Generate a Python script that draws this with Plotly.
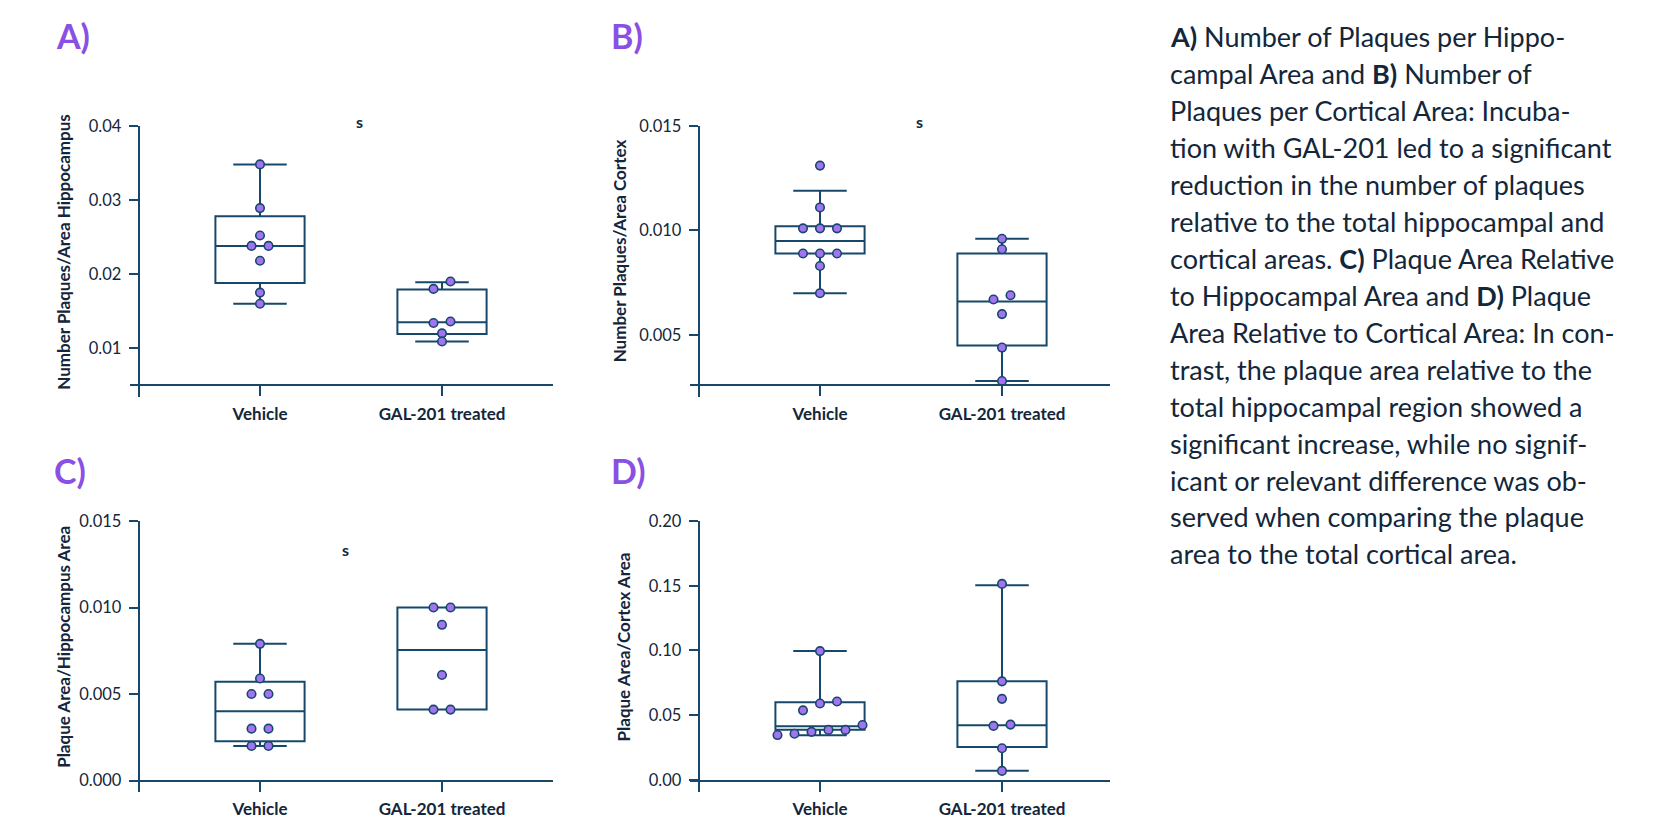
import numpy as np
import plotly.graph_objects as go

W, H = 1659, 824

NAVY = "#17486b"
PURPLE_PT = "#a274f2"
PURPLE_LETTER = "#8a50e4"
TEXT = "#13263a"
FONT = "Lato"

groups = ["Vehicle", "GAL-201 treated"]

# A) number of plaques per hippocampal area
a_vehicle = [0.0348, 0.0289, 0.0252, 0.0238, 0.0238, 0.0218, 0.0175, 0.0160]
a_gal = [0.0190, 0.0180, 0.0136, 0.0134, 0.0120, 0.0109]
a_low = [0.0160, 0.0109]
a_q1 = [0.0188, 0.0119]
a_med = [0.0238, 0.0135]
a_q3 = [0.0278, 0.0179]
a_high = [0.0348, 0.0189]
a_ticks = ["0.01", "0.02", "0.03", "0.04"]

# B) number of plaques per cortical area
b_vehicle = [0.0131, 0.0111, 0.0101, 0.0101, 0.0101, 0.0089, 0.0089, 0.0089, 0.0083, 0.0070]
b_gal = [0.0096, 0.0091, 0.0069, 0.0067, 0.0060, 0.0044, 0.0028]
b_low = [0.0070, 0.0028]
b_q1 = [0.0089, 0.0045]
b_med = [0.0095, 0.0066]
b_q3 = [0.0102, 0.0089]
b_high = [0.0119, 0.0096]
b_ticks = ["0.005", "0.010", "0.015"]

# C) plaque area relative to hippocampal area
c_vehicle = [0.0079, 0.0059, 0.0050, 0.0050, 0.0030, 0.0030, 0.0020, 0.0020]
c_gal = [0.0100, 0.0100, 0.0090, 0.0061, 0.0041, 0.0041]
c_low = [0.0020, 0.0041]
c_q1 = [0.00227, 0.0041]
c_med = [0.0040, 0.00755]
c_q3 = [0.00571, 0.0100]
c_high = [0.0079, 0.0100]
c_ticks = ["0.000", "0.005", "0.010", "0.015"]

# D) plaque area relative to cortical area
d_vehicle = [0.0995, 0.0605, 0.0590, 0.0537, 0.0424, 0.0386, 0.0386, 0.0371, 0.0356, 0.0346]
d_gal = [0.1514, 0.0761, 0.0626, 0.0427, 0.0417, 0.0244, 0.0069]
d_low = [0.0345, 0.0071]
d_q1 = [0.0388, 0.0254]
d_med = [0.0415, 0.0422]
d_q3 = [0.0600, 0.0761]
d_high = [0.0995, 0.1504]
d_ticks = ["0.00", "0.05", "0.10", "0.15", "0.20"]

caption = [
    "<b>A)</b> Number of Plaques per Hippo-",
    "campal Area and <b>B)</b> Number of",
    "Plaques per Cortical Area: Incuba-",
    "tion with GAL-201 led to a significant",
    "reduction in the number of plaques",
    "relative to the total hippocampal and",
    "cortical areas. <b>C)</b> Plaque Area Relative",
    "to Hippocampal Area and <b>D)</b> Plaque",
    "Area Relative to Cortical Area: In con-",
    "trast, the plaque area relative to the",
    "total hippocampal region showed a",
    "significant increase, while no signif-",
    "icant or relevant difference was ob-",
    "served when comparing the plaque",
    "area to the total cortical area.",
]

CAT_PX = 182.0  # pixel distance between the two group positions

# pixel layout of each panel: axis lines, two reference ticks, label spots
panels = [
    dict(letter="A)", vehicle=a_vehicle, gal=a_gal,
         stats=(a_low, a_q1, a_med, a_q3, a_high), ticks=a_ticks,
         title="Number Plaques/Area Hippocampus",
         x0=130, x1=553, cat0=260, yline=138.7,
         ref=((0.04, 117.3), (0.01, 342.3)), top=117.3, axis_y=380, bottom=392,
         title_xy=(62.7, 245), letter_xy=(73, 26), s_xy=(359, 113)),
    dict(letter="B)", vehicle=b_vehicle, gal=b_gal,
         stats=(b_low, b_q1, b_med, b_q3, b_high), ticks=b_ticks,
         title="Number Plaques/Area Cortex",
         x0=690, x1=1110, cat0=820, yline=698.7,
         ref=((0.015, 117.3), (0.005, 329.0)), top=117.3, axis_y=380, bottom=392,
         title_xy=(619.3, 244), letter_xy=(627, 26), s_xy=(919, 113)),
    dict(letter="C)", vehicle=c_vehicle, gal=c_gal,
         stats=(c_low, c_q1, c_med, c_q3, c_high), ticks=c_ticks,
         title="Plaque Area/Hippocampus Area",
         x0=130, x1=553, cat0=260, yline=138.7,
         ref=((0.015, 517.3), (0.0, 780.0)), top=517.3, axis_y=780, bottom=791.7,
         title_xy=(62.7, 645), letter_xy=(70, 466), s_xy=(345.7, 546)),
    dict(letter="D)", vehicle=d_vehicle, gal=d_gal,
         stats=(d_low, d_q1, d_med, d_q3, d_high), ticks=d_ticks,
         title="Plaque Area/Cortex Area",
         x0=690, x1=1110, cat0=820, yline=698.7,
         ref=((0.20, 517.3), (0.0, 779.3)), top=517.3, axis_y=780, bottom=791.7,
         title_xy=(623.3, 645), letter_xy=(628, 466), s_xy=None),
]


def swarm_offsets(values, ppu, thresh=8.0, gap=17.0):
    """Spread points whose values nearly coincide sideways, centred on the group."""
    vals = np.asarray(values, dtype=float)
    order = np.argsort(-vals, kind="stable")
    clusters, cur = [], [order[0]]
    for prev, idx in zip(order[:-1], order[1:]):
        if (vals[prev] - vals[idx]) * ppu < thresh:
            cur.append(idx)
        else:
            clusters.append(cur)
            cur = [idx]
    clusters.append(cur)
    offs = np.zeros(len(vals))
    for cl in clusters:
        k = len(cl)
        for i, idx in enumerate(cl):
            offs[idx] = ((k - 1) / 2 - i) * gap / CAT_PX
    return offs


fig = go.Figure()
layout = dict(
    width=W, height=H, margin=dict(l=0, r=0, t=0, b=0),
    paper_bgcolor="white", plot_bgcolor="white", showlegend=False,
    font=dict(family=FONT, color=TEXT),
)
annotations = []

for n, p in enumerate(panels, start=1):
    xa = "x" if n == 1 else f"x{n}"
    ya = "y" if n == 1 else f"y{n}"
    (v1, p1), (v2, p2) = p["ref"]
    ppu = (p2 - p1) / (v1 - v2)  # pixels per data unit

    def val_at(px):
        return v1 - (px - p1) / ppu

    yrange = [val_at(p["bottom"]), val_at(p["top"])]
    tickvals = [float(t) for t in p["ticks"]]

    layout["xaxis" if n == 1 else f"xaxis{n}"] = dict(
        domain=[p["x0"] / W, p["x1"] / W],
        range=[(p["x0"] - p["cat0"]) / CAT_PX, (p["x1"] - p["cat0"]) / CAT_PX],
        anchor="free", position=1 - p["axis_y"] / H,
        showline=True, linecolor=NAVY, linewidth=2,
        ticks="outside", ticklen=10, tickwidth=2, tickcolor=NAVY,
        tickvals=[0, 1], ticktext=groups,
        tickfont=dict(family=FONT, size=17, color=TEXT, weight="bold"),
        ticklabelstandoff=3,
        showgrid=False, zeroline=False, fixedrange=True,
    )
    layout["yaxis" if n == 1 else f"yaxis{n}"] = dict(
        domain=[1 - p["bottom"] / H, 1 - p["top"] / H],
        range=yrange, anchor="free", position=p["yline"] / W,
        showline=True, linecolor=NAVY, linewidth=2,
        ticks="outside", ticklen=9, tickwidth=2, tickcolor=NAVY,
        tickvals=tickvals, ticktext=p["ticks"],
        tickfont=dict(family=FONT, size=16.5, color=TEXT),
        ticklabelstandoff=4,
        showgrid=False, zeroline=False, fixedrange=True,
    )

    low, q1, med, q3, high = p["stats"]
    fig.add_trace(go.Box(
        x=[0, 1], q1=q1, median=med, q3=q3, lowerfence=low, upperfence=high,
        width=0.49, whiskerwidth=0.6, boxpoints=False,
        line=dict(color=NAVY, width=2), fillcolor="rgba(255,255,255,0)",
        xaxis=xa, yaxis=ya, hoverinfo="skip",
    ))

    xs = list(0 + swarm_offsets(p["vehicle"], ppu)) + list(1 + swarm_offsets(p["gal"], ppu))
    ys = list(p["vehicle"]) + list(p["gal"])
    fig.add_trace(go.Scatter(
        x=xs, y=ys, mode="markers",
        marker=dict(size=8.5, color=PURPLE_PT, line=dict(color=NAVY, width=1.6)),
        xaxis=xa, yaxis=ya, hoverinfo="skip",
    ))

    tx, ty = p["title_xy"]
    annotations.append(dict(
        text=f"<b>{p['title']}</b>", x=tx / W, y=1 - ty / H, xref="paper", yref="paper",
        textangle=-90, showarrow=False, xanchor="center", yanchor="middle",
        font=dict(family=FONT, size=17, color=TEXT),
    ))
    lx, ly = p["letter_xy"]
    annotations.append(dict(
        text=f"<b>{p['letter']}</b>", x=lx / W, y=1 - ly / H, xref="paper", yref="paper",
        showarrow=False, xanchor="center", yanchor="middle",
        font=dict(family=FONT, size=34, color=PURPLE_LETTER),
    ))
    if p["s_xy"]:
        sx, sy = p["s_xy"]
        annotations.append(dict(
            text="<b>s</b>", x=sx / W, y=1 - sy / H, xref="paper", yref="paper",
            showarrow=False, xanchor="center", yanchor="middle",
            font=dict(family=FONT, size=16, color=TEXT),
        ))

for i, line in enumerate(caption):
    annotations.append(dict(
        text=line, x=1168 / W, y=1 - (27 + i * 37.4) / H, xref="paper", yref="paper",
        showarrow=False, xanchor="left", yanchor="middle",
        font=dict(family=FONT, size=27, color=TEXT),
    ))

layout["annotations"] = annotations
fig.update_layout(**layout)
fig.write_html("out.html", config={"displayModeBar": False})
